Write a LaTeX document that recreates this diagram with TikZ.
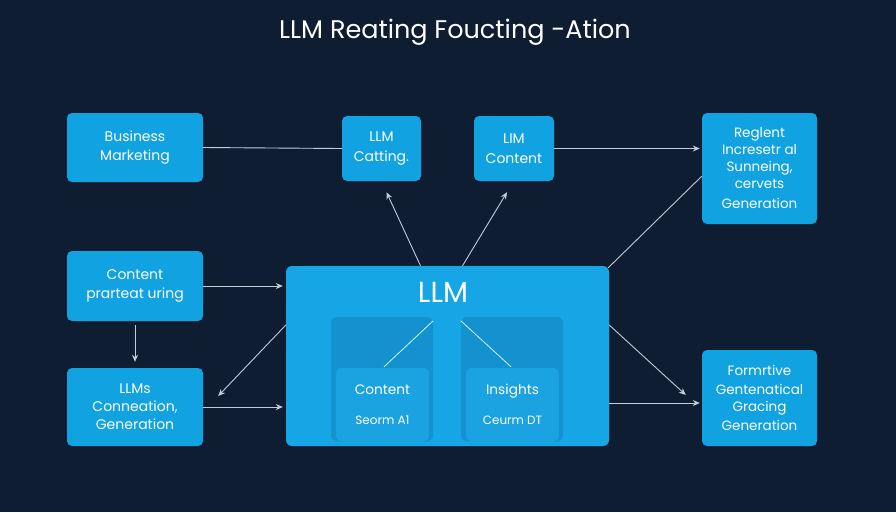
\documentclass[tikz,border=0pt]{standalone}
\usepackage{fontspec}
\setmainfont{Poppins}
\usetikzlibrary{arrows.meta,calc}
\definecolor{bg}{HTML}{0E1D31}
\definecolor{boxblue}{HTML}{11A2E2}
\definecolor{bigblue}{HTML}{17A6E5}
\definecolor{panelblue}{HTML}{1392CF}
\definecolor{cardblue}{HTML}{1AA3E0}
\definecolor{linecol}{HTML}{C3CCD6}
\begin{document}
\begin{tikzpicture}[x=1pt,y=-1pt,
  box/.style={fill=boxblue,rounded corners=5pt,draw=none,text=white,align=center,inner sep=0pt,
    font=\fontsize{14}{19.5}\selectfont},
  conn/.style={draw=linecol,line width=0.9pt},
  arr/.style={conn,-{Stealth[length=7pt,width=6pt]}},
]
\fill[bg] (0,0) rectangle (896,512);
\useasboundingbox (0,0) rectangle (896,512);

\node[text=white,font=\fontsize{25.5}{28}\selectfont] (title) at (455,32) {LLM Reating Foucting -Ation};

\node[box,minimum width=136pt,minimum height=69pt] (bm) at (135,147.5) {Business\\Marketing};
\node[box,minimum width=79pt,minimum height=65pt] (lc) at (381.5,148.5) {LLM\\Catting.};
\node[box,minimum width=80pt,minimum height=65pt] (lic) at (514,148.5) {LIM\\Content};
\node[box,minimum width=115pt,minimum height=111pt,font=\fontsize{13.5}{17}\selectfont] (rg) at (759.5,168.5) {Reglent\\Incresetr al\\Sunneing,\\cervets\\[3pt]Generation};
\node[box,minimum width=136pt,minimum height=70pt] (cp) at (135,286) {Content\\prarteat uring};
\node[box,minimum width=136pt,minimum height=78pt,font=\fontsize{14}{18}\selectfont] (lg) at (135,407) {LLMs\\Conneation,\\Generation};
\node[box,minimum width=115pt,minimum height=96pt,font=\fontsize{13.5}{19}\selectfont] (fm) at (759.5,398) {Formrtive\\Gentenatical\\[-2pt]Gracing\\Generation};

\node[box,fill=bigblue,minimum width=323pt,minimum height=180pt,rounded corners=6pt] (big) at (447.5,356) {};
\node[text=white,font=\fontsize{29}{30}\selectfont] (llm) at (443,292) {LLM};
\node[fill=panelblue,rounded corners=6pt,minimum width=102pt,minimum height=124pt,inner sep=0pt] (pL) at (382,379) {};
\node[fill=panelblue,rounded corners=6pt,minimum width=102pt,minimum height=124pt,inner sep=0pt] (pR) at (512,379) {};
\node[box,fill=cardblue,minimum width=93pt,minimum height=73pt,font=\fontsize{13.7}{30}\selectfont] (cL) at (382.5,404.5) {Content\\{\fontsize{12}{14}\selectfont Seorm A1}};
\node[box,fill=cardblue,minimum width=93pt,minimum height=73pt,font=\fontsize{13.7}{30}\selectfont] (cR) at (512.5,404.5) {Insights\\{\fontsize{12}{14}\selectfont Ceurm DT}};

% connectors
\draw[conn] (bm.east) -- (lc.west);
\draw[arr,shorten >=2pt] (lic.east) -- (rg.west |- lic.east);
\draw[arr] ($(big.north)+(-27,0)$) -- ($(lc.south)+(5,11)$);
\draw[arr] ($(big.north)+(15,0)$) -- ($(lic.south)+(-7,11)$);
\draw[conn] ($(big.north east)+(-1,2)$) -- ($(rg.south west)+(0,-48)$);
\draw[arr,shorten >=3pt] (cp.east) -- (big.west |- cp.east);
\draw[arr,shorten <=4pt,shorten >=6pt] (cp.south) -- (lg.north);
\draw[arr] ($(big.west)+(0,-31)$) -- ($(lg.east)+(15,-11)$);
\draw[arr,shorten >=3pt] (lg.east) -- (big.west |- lg.east);
\draw[arr] ($(big.east)+(0,-31)$) -- ($(fm.west)+(-16,-3)$);
\draw[arr,shorten >=2pt] ($(big.east)+(0,47)$) -- (fm.west |- {$(big.east)+(0,47)$});
\draw[conn,line width=0.8pt,draw=white!85!cyan] ($(pL.north east)+(0,4)$) -- ($(cL.north)+(1.5,-1)$);
\draw[conn,line width=0.8pt,draw=white!85!cyan] ($(pR.north west)+(0,4)$) -- ($(cR.north)+(-1.5,-1)$);
\end{tikzpicture}
\end{document}
